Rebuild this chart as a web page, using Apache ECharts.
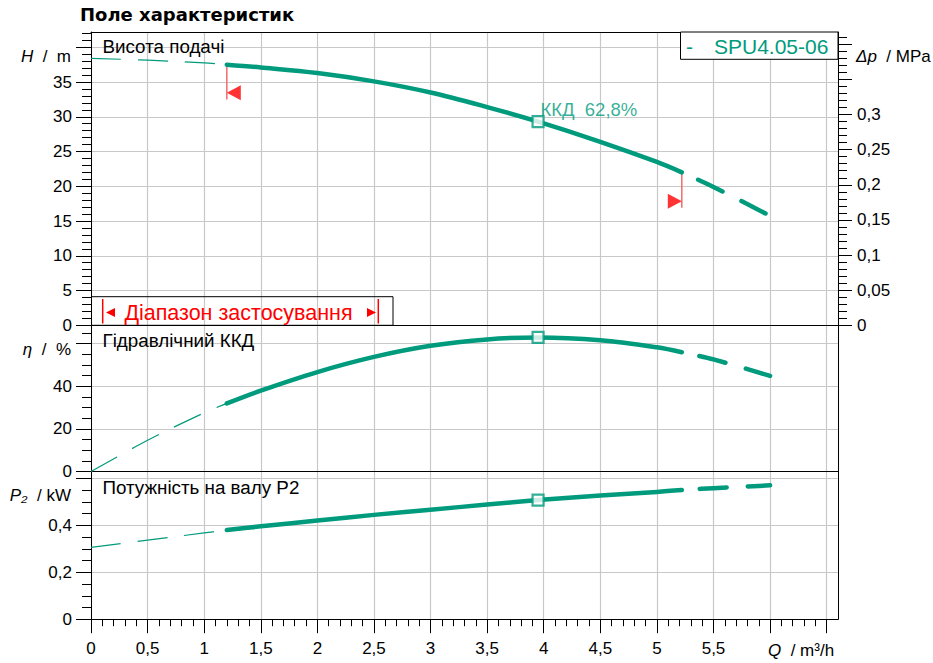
<!DOCTYPE html>
<html><head><meta charset="utf-8">
<script src="https://cdn.jsdelivr.net/npm/echarts@6/dist/echarts.min.js"></script>
<style>html,body{margin:0;padding:0;background:#fff}#c{width:933px;height:663px}</style>
</head><body><div id="c"></div>
<script>
// ---- data ----
const qPts    = [0, 0.5, 1.0, 1.2, 1.5, 2.0, 2.5, 3.0, 3.5, 3.95, 4.5, 5.0, 5.22, 5.5, 6.0];
const headM   = [38.4, 38.15, 37.75, 37.5, 37.1, 36.3, 35.1, 33.5, 31.4, 29.3, 26.4, 23.5, 22.0, 19.9, 15.75];
const effPct  = [0, 14.6, 27.5, 31.9, 37.9, 46.6, 53.7, 58.9, 61.9, 62.8, 61.5, 58.2, 55.9, 52.5, 44.8];
const powerKW = [0.306, 0.337, 0.368, 0.380, 0.396, 0.421, 0.445, 0.467, 0.489, 0.508, 0.528, 0.543, 0.551, 0.559, 0.571];
const bestIdx = 9;            // best efficiency point index (Q = 3.95)
const bestEffLabel = 62.8;
const rangeStartIdx = 3;      // Q = 1.2
const rangeEndIdx = 12;       // Q = 5.22
const rangeMarkH = [33.45, 17.86];   // triangle heights
const rangeLineBottomH = [32.5, 16.9];

const xTicks  = [0,0.5,1,1.5,2,2.5,3,3.5,4,4.5,5,5.5,6,6.5];
const xLabels = [0,0.5,1,1.5,2,2.5,3,3.5,4,4.5,5,5.5];
const hTicks  = [0,5,10,15,20,25,30,35,40];
const hLabels = [0,5,10,15,20,25,30,35];
const dpTicks = [0,0.05,0.1,0.15,0.2,0.25,0.3,0.35,0.4];
const dpLabels= [0,0.05,0.1,0.15,0.2,0.25,0.3];
const etaTicks = [0,20,40,60];
const etaLabels= [0,20,40];
const pTicks  = [0,0.2,0.4,0.6];
const pLabels = [0,0.2,0.4];
const range = (a, b, s) => { const r=[]; for (let i=0; a+i*s <= b+1e-9; i++) r.push(+(a+i*s).toFixed(3)); return r; };
const xMinor = range(0, 6.5, 0.1);
const hMinor = range(0, 42, 1);
const dpMinor = range(0, 0.41, 0.01);
const etaMinor = range(0, 65, 5);
const pMinor = range(0, 0.6, 0.05);

const X_MAX = 6.6, H_MAX = 42.2, DP_MAX = 0.4175, ETA_MAX = 68.5, P_MAX = 0.63;

// ---- styles ----
const TEAL = '#009B7D', GRIDC = '#c8c8c8', FONT = '"Liberation Sans", Arial, sans-serif';
const comma = v => String(+(+v).toFixed(3)).replace('.', ',');
const L = 91, R = 95;
const G = [
  {left:L, right:R, top:32, height:293.3},
  {left:L, right:R, top:325.3, height:146.2},
  {left:L, right:R, top:471.5, height:147.7}
];
const grids = G.concat(G).map(g => Object.assign({outerBoundsMode:'none', containLabel:false, show:false}, g));

const blackLine = {show:true, onZero:false, lineStyle:{color:'#000', width:1}};
const noLine = {show:false, onZero:false};
const split = {show:true, lineStyle:{color:GRIDC, width:1.2}};
const lbl = (vals, margin) => ({show:true, customValues:vals, margin, fontSize:17, color:'#000', fontFamily:FONT, formatter: v => comma(v)});
const tick = (vals, len) => ({show:true, customValues:vals, length:len, inside:false, lineStyle:{color:'#000', width:1}});

const xBase = {type:'value', min:0, max:X_MAX, interval:0.5};
const xAxis = [
  Object.assign({}, xBase, {gridIndex:0, position:'bottom', axisLine:blackLine, axisTick:{show:false}, axisLabel:{show:false}, splitLine:split}),
  Object.assign({}, xBase, {gridIndex:0, position:'top', axisLine:blackLine, axisTick:{show:false}, axisLabel:{show:false}, splitLine:{show:false}}),
  Object.assign({}, xBase, {gridIndex:1, position:'bottom', axisLine:blackLine, axisTick:{show:false}, axisLabel:{show:false}, splitLine:split}),
  Object.assign({}, xBase, {gridIndex:2, position:'bottom', axisLine:blackLine, axisTick:tick(xTicks,14), axisLabel:lbl(xLabels,21), splitLine:split}),
  Object.assign({}, xBase, {gridIndex:3, show:false}),
  Object.assign({}, xBase, {gridIndex:4, show:false}),
  Object.assign({}, xBase, {gridIndex:5, position:'bottom', axisLine:noLine, axisTick:tick(xMinor,7), axisLabel:{show:false}, splitLine:{show:false}})
];
const yAx = (gi, pos, max, interval, line, tk, lb, sp) => ({type:'value', gridIndex:gi, position:pos, min:0, max, interval,
  axisLine: line, axisTick: tk || {show:false}, axisLabel: lb || {show:false}, splitLine: sp || {show:false}});
const yAxis = [
  yAx(0,'left', H_MAX, 5, blackLine, tick(hTicks,15), lbl(hLabels,19), split),          //0
  yAx(0,'right', DP_MAX, 0.05, blackLine, tick(dpTicks,14), lbl(dpLabels,19)),         //1
  yAx(1,'left', ETA_MAX, 20, blackLine, tick(etaTicks,15), lbl(etaLabels,19), split),    //2
  yAx(1,'right', ETA_MAX, 20, blackLine),                                                //3
  yAx(2,'left', P_MAX, 0.2, blackLine, tick(pTicks,15), lbl(pLabels,19), split),         //4
  yAx(2,'right', P_MAX, 0.2, blackLine),                                                 //5
  yAx(3,'left', H_MAX, 5, noLine, tick(hMinor,9)),                                       //6
  yAx(3,'right', DP_MAX, 0.05, noLine, tick(dpMinor,9)),                                 //7
  yAx(4,'left', ETA_MAX, 20, noLine, tick(etaMinor,9)),                                  //8
  yAx(5,'left', P_MAX, 0.2, noLine, tick(pMinor,9))                                      //9
];

const seg = (arr, a, b) => qPts.slice(a, b).map((q, i) => [q, arr[a + i]]);
const thin = {width:1.2, color:TEAL, type:[30,17]};
const thick = {width:4.5, color:TEAL, cap:'round', join:'round'};
const thickDash = {width:4.5, color:TEAL, type:[27,21], dashOffset:30, cap:'round'};
const lineS = (arr, a, b, style, xi, yi) => ({type:'line', xAxisIndex:xi, yAxisIndex:yi, data:seg(arr,a,b),
  symbol:'none', showSymbol:false, smooth:0.35, lineStyle:style, silent:true, z:3});
const curve = (arr, xi, yi) => [
  lineS(arr, 0, rangeStartIdx + 1, thin, xi, yi),
  lineS(arr, rangeStartIdx, rangeEndIdx + 1, thick, xi, yi),
  lineS(arr, rangeEndIdx, qPts.length, thickDash, xi, yi)
];
const bep = (arr, xi, yi, label) => ({type:'scatter', xAxisIndex:xi, yAxisIndex:yi, data:[[qPts[bestIdx], arr[bestIdx]]],
  symbol:'rect', symbolSize:11, z:6, silent:true,
  itemStyle:{color:'#fff', borderColor:TEAL, borderWidth:2.2},
  label: label ? {show:true, position:[9,-15], formatter: label, color:TEAL, fontSize:18.5, fontFamily:FONT} : {show:false}});

const series = [].concat(
  curve(headM, 0, 0),
  curve(effPct, 2, 2),
  curve(powerKW, 3, 4),
  [
    bep(headM, 0, 0, 'ККД  ' + comma(bestEffLabel) + '%'),
    bep(effPct, 2, 2),
    bep(powerKW, 3, 4),
    {type:'line', xAxisIndex:0, yAxisIndex:0, symbol:'none', silent:true, z:2,
      data:[[qPts[rangeStartIdx], headM[rangeStartIdx]], [qPts[rangeStartIdx], rangeLineBottomH[0]]],
      lineStyle:{color:'#f26b6b', width:1.5}},
    {type:'line', xAxisIndex:0, yAxisIndex:0, symbol:'none', silent:true, z:2,
      data:[[qPts[rangeEndIdx], headM[rangeEndIdx]], [qPts[rangeEndIdx], rangeLineBottomH[1]]],
      lineStyle:{color:'#f26b6b', width:1.5}},
    {type:'scatter', xAxisIndex:0, yAxisIndex:0, silent:true, data:[[qPts[rangeStartIdx], rangeMarkH[0]]],
      symbol:'triangle', symbolSize:[15,14], symbolRotate:90, symbolOffset:[7,0], itemStyle:{color:'#ff0000'}},
    {type:'scatter', xAxisIndex:0, yAxisIndex:0, silent:true, data:[[qPts[rangeEndIdx], rangeMarkH[1]]],
      symbol:'triangle', symbolSize:[15,14], symbolRotate:-90, symbolOffset:[-7,0], itemStyle:{color:'#ff0000'}}
  ]
);

const txt = (text, x, y, opt) => ({type:'text', x, y, z:50, silent:true,
  style:Object.assign({text, fill:'#000', fontSize:17, fontFamily:FONT, align:'left', verticalAlign:'middle'}, opt || {})});
const ital = {i:{fontStyle:'italic', fontSize:17, fontFamily:FONT}};
const graphic = [
  txt('Висота подачі', 102.5, 46.5, {fontSize:18.8}),
  txt('Гідравлічний ККД', 102.5, 340.5, {fontSize:18.8}),
  txt('Потужність на валу P2', 102.5, 487, {fontSize:18.8}),
  txt('{i|H}  /  m', 71, 56, {align:'right', rich:ital}),
  txt('{i|η}  /  %', 71, 349, {align:'right', rich:ital}),
  txt('{i|P₂}  / kW', 71, 495, {align:'right', rich:ital}),
  txt('{i|Δp}  / MPa', 856, 56, {rich:ital}),
  txt('{i|Q}  / m³/h', 768, 650, {rich:ital}),
  // legend box
  {type:'rect', z:40, silent:true, shape:{x:680.5, y:32, width:157.5, height:27.3}, style:{fill:'#fff', stroke:'#000', lineWidth:1}},
  txt('-', 686, 46.5, {fill:TEAL, fontSize:21}),
  txt('SPU4.05-06', 714, 46.5, {fill:TEAL, fontSize:21}),
  // application range box
  {type:'rect', z:40, silent:true, shape:{x:91.5, y:296.7, width:301.5, height:28.6}, style:{fill:'none', stroke:'#000', lineWidth:1}},
  {type:'line', z:41, silent:true, shape:{x1:102.7, y1:299, x2:102.7, y2:323.5}, style:{stroke:'#ff0000', lineWidth:1.5}},
  {type:'line', z:41, silent:true, shape:{x1:378.3, y1:299, x2:378.3, y2:323.5}, style:{stroke:'#ff0000', lineWidth:1.5}},
  {type:'polygon', z:41, silent:true, shape:{points:[[106,312.5],[115,308],[115,317]]}, style:{fill:'#ff0000'}},
  {type:'polygon', z:41, silent:true, shape:{points:[[376,312.5],[367,308],[367,317]]}, style:{fill:'#ff0000'}},
  txt('Діапазон застосування', 238.5, 313.3, {fill:'#ff0000', fontSize:21.5, align:'center'})
];

const chart = echarts.init(document.getElementById('c'), null, {renderer:'svg', width:933, height:663});
chart.setOption({
  animation:false,
  backgroundColor:'#fff',
  textStyle:{fontFamily:FONT},
  title:{text:'Поле характеристик', left:80, top:5, padding:0,
    textStyle:{fontFamily:'"DejaVu Sans", Verdana, sans-serif', fontWeight:'bold', fontSize:18, color:'#000'}},
  grid:grids, xAxis, yAxis, series, graphic
});
</script></body></html>
